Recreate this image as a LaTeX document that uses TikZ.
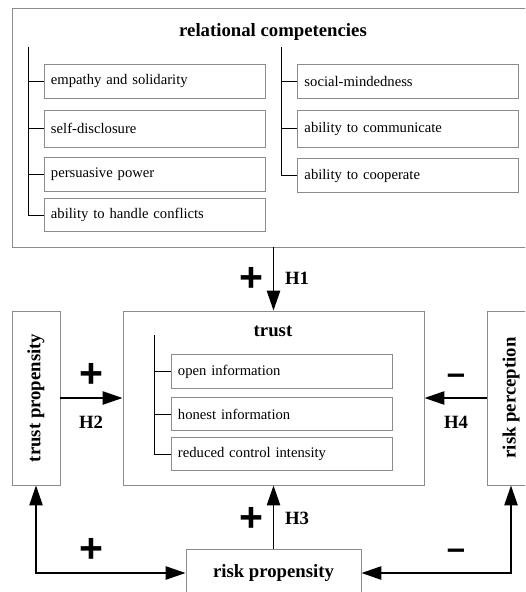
\documentclass[tikz,border=0pt]{standalone}
\usepackage{fontspec}
\setmainfont{Liberation Serif}
\newfontfamily\signfont{Liberation Sans}
\usetikzlibrary{arrows.meta}
\definecolor{boxcol}{HTML}{8C8C8C}

\begin{document}
\begin{tikzpicture}[x=0.03cm, y=-0.03cm,
  >={Triangle[length=6mm,width=4mm]},
  cbox/.style={draw=boxcol, line width=0.8pt},
  item/.style={cbox, minimum width=6.63cm, minimum height=1cm,
               text width=6.21cm, inner xsep=0.21cm, align=left,
               font=\fontsize{12.5}{14}\selectfont},
  head/.style={font=\fontsize{16}{19}\bfseries\selectfont},
  branch/.style={black, line width=0.8pt},
  link/.style={->, line width=1.5pt},
  both/.style={<->, line width=1.5pt},
  plus/.style={font=\signfont\fontsize{35}{35}\bfseries\selectfont},
  minus/.style={font=\signfont\fontsize{28}{28}\bfseries\selectfont},
  hyp/.style={font=\fontsize{16}{19}\bfseries\selectfont}
]
  \useasboundingbox (0,0) rectangle (525,592);
  \clip (0,0) rectangle (525,592);

  % relational competencies
  \node[cbox, minimum width=15.69cm, minimum height=7.17cm] (rc) at (273.5,127.5) {};
  \node[head] (rctitle) at (273,32) {relational competencies};
  \node[item] (emp) at (154.5,81.5) {empathy and solidarity};
  \node[item, minimum height=1.11cm] (discl) at (154.5,128.5) {self-disclosure};
  \node[item] (pers) at (154.5,174.5) {persuasive power};
  \node[item] (confl) at (154.5,215) {ability to handle conflicts};
  \node[item] (social) at (408,81.5) {social-mindedness};
  \node[item, minimum height=1.11cm] (commu) at (408,128.5) {ability to communicate};
  \node[item] (coop) at (408,175.5) {ability to cooperate};
  \coordinate (lroot) at (28,47);
  \coordinate (rroot) at (281,47);
  \foreach \n in {emp,discl,pers,confl} \draw[branch] (lroot) |- (\n.west);
  \foreach \n in {social,commu,coop} \draw[branch] (rroot) |- (\n.west);

  % trust
  \node[cbox, minimum width=9.03cm, minimum height=5.22cm] (trust) at (273.5,398) {};
  \node[head] (trusttitle) at (273,331) {trust};
  \node[item] (open) at (281.5,371.5) {open information};
  \node[item] (honest) at (281.5,414) {honest information};
  \node[item] (control) at (281.5,454) {reduced control intensity};
  \coordinate (troot) at (154,335);
  \foreach \n in {open,honest,control} \draw[branch] (troot) |- (\n.west);

  % antecedents
  \node[cbox, minimum width=1.44cm, minimum height=5.22cm] (tprop) at (36,398) {};
  \node[head, rotate=90] (tproptext) at (tprop) {trust propensity};
  \node[cbox, minimum width=1.44cm, minimum height=5.22cm] (rperc) at (511,398) {};
  \node[head, rotate=90] (rperctext) at (rperc) {risk perception};
  \node[cbox, head, minimum width=5.25cm, minimum height=1.44cm] (rprop) at (273.5,573) {risk propensity};

  \draw[link] (rc.south) -- (trust.north);
  \draw[link] (tprop.east) -- (trust.west);
  \draw[link] (rperc.west) -- (trust.east);
  \draw[link] (rprop.north) -- (trust.south);
  \draw[both] (tprop.south) |- (rprop.west);
  \draw[both] (rperc.south) |- (rprop.east);

  \node[plus] (p1) at (251,279) {+};
  \node[hyp] (h1) at (297,278) {H1};
  \node[plus] (p2) at (91,375) {+};
  \node[hyp] (h2) at (91,422) {H2};
  \node[plus] (p3) at (251,519) {+};
  \node[hyp] (h3) at (297,518) {H3};
  \node[minus] (m4) at (456,379) {–};
  \node[hyp] (h4) at (456,422) {H4};
  \node[plus] (p5) at (91,550) {+};
  \node[minus] (m6) at (456,554) {–};
\end{tikzpicture}
\end{document}
